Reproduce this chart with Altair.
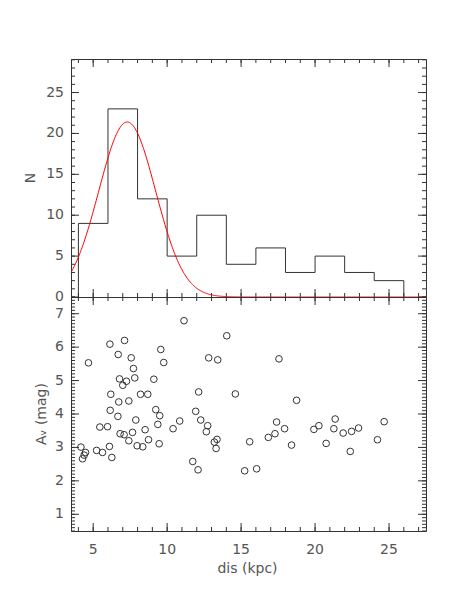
import altair as alt
import pandas as pd

# ---------------- data ----------------
# histogram of distances (bin edges in kpc, counts)
bin_edges = [4, 6, 8, 10, 12, 14, 16, 18, 20, 22, 24, 26]
counts = [9, 23, 12, 5, 10, 4, 6, 3, 5, 3, 2]

# gaussian fit parameters (red curve)
gauss_amp = 21.4
gauss_mu = 7.3
gauss_sigma = 1.92

# scatter: distance (kpc) vs A_V (mag)
dis = [4.17, 4.28, 4.39, 4.48, 4.68, 5.23, 5.45, 5.63, 5.97,
       6.13, 6.10, 6.19, 6.15, 6.26, 6.67, 6.69, 6.73, 6.78, 6.82, 7.00,
       7.09, 7.12, 7.25, 7.41, 7.41, 7.57, 7.66, 7.72, 7.81, 7.88, 7.97,
       8.20, 8.35, 8.51, 8.69, 8.74, 9.10, 9.23, 9.37, 9.46, 9.50, 9.57, 9.77,
       10.40, 10.85, 11.14, 11.73, 11.93,
       12.09, 12.13, 12.27, 12.65, 12.74, 12.81, 13.19, 13.31, 13.37, 13.42,
       14.03, 14.61, 15.24, 15.58,
       16.05, 16.84, 17.29, 17.40, 17.56, 17.94,
       18.41, 18.75, 19.92,
       20.26, 20.75, 21.27, 21.36, 21.90,
       22.38, 22.47, 22.94,
       24.22, 24.67]
av = [3.01, 2.66, 2.77, 2.85, 5.53, 2.91, 3.61, 2.85, 3.62,
      6.09, 3.03, 4.59, 4.11, 2.70, 3.93, 5.78, 4.36, 5.05, 3.41, 4.86,
      3.38, 6.20, 4.98, 4.39, 3.20, 5.68, 3.45, 5.36, 5.08, 3.82, 3.05,
      4.59, 3.02, 3.53, 4.59, 3.23, 5.04, 4.13, 3.69, 3.11, 3.95, 5.93, 5.54,
      3.56, 3.79, 6.79, 2.58, 4.08,
      2.33, 4.66, 3.82, 3.47, 3.65, 5.68, 3.16, 2.97, 3.24, 5.62,
      6.34, 4.60, 2.30, 3.17,
      2.36, 3.30, 3.41, 3.76, 5.65, 3.56,
      3.07, 4.41, 3.54,
      3.65, 3.12, 3.56, 3.85, 3.43,
      2.88, 3.48, 3.58,
      3.23, 3.77]

# axis tick values and texts
x_major = [5, 10, 15, 20, 25]
x_minor = list(range(4, 28))
n_major = [0, 5, 10, 15, 20, 25]
n_minor = list(range(0, 30))
av_major = [1, 2, 3, 4, 5, 6, 7]
av_minor = [round(0.5 + 0.1 * i, 1) for i in range(71)]
x_title = "dis (kpc)"
n_title = "N"
av_title = "A\u1d65 (mag)"

x_domain = [3.5, 27.5]
n_domain = [0, 29.1]
av_domain = [0.5, 7.5]

# ---------------- tables ----------------
step_x = [bin_edges[0]] + bin_edges[:-1] + [bin_edges[-1], bin_edges[-1]]
step_y = [0] + counts + [counts[-1], 0]
step_df = pd.DataFrame({"dis": step_x, "N": step_y, "order": list(range(len(step_x)))})
scat_df = pd.DataFrame({"dis": dis, "av": av})

INK = "#333333"
TXT = "#555555"
FONT = "DejaVu Sans"
FS = 14
MAJ = 8
MIN = 4
W = 355
H_TOP = 238
H_BOT = 234

xs = alt.Scale(domain=x_domain, nice=False, zero=False)
ns = alt.Scale(domain=n_domain, nice=False, zero=False)
avs = alt.Scale(domain=av_domain, nice=False, zero=False)


def x_ticks(values, h, size):
    """inward tick marks on bottom and top edges, positioned via the x scale"""
    df = pd.DataFrame({"dis": values})
    return [
        alt.Chart(df).mark_rule(color=INK, strokeWidth=1).encode(
            x=alt.X("dis:Q", scale=xs, axis=None),
            y=alt.value(h), y2=alt.value(h - size)),
        alt.Chart(df).mark_rule(color=INK, strokeWidth=1).encode(
            x=alt.X("dis:Q", scale=xs, axis=None),
            y=alt.value(0), y2=alt.value(size)),
    ]


def y_ticks(values, field, scale, size):
    """inward tick marks on left and right edges, positioned via the y scale"""
    df = pd.DataFrame({field: values})
    return [
        alt.Chart(df).mark_rule(color=INK, strokeWidth=1).encode(
            y=alt.Y(f"{field}:Q", scale=scale, axis=None),
            x=alt.value(0), x2=alt.value(size)),
        alt.Chart(df).mark_rule(color=INK, strokeWidth=1).encode(
            y=alt.Y(f"{field}:Q", scale=scale, axis=None),
            x=alt.value(W), x2=alt.value(W - size)),
    ]


def y_labels(values, field, scale):
    df = pd.DataFrame({field: values, "lab": [str(v) for v in values]})
    return alt.Chart(df).mark_text(align="right", baseline="middle", font=FONT,
                                   fontSize=FS, color=TXT).encode(
        y=alt.Y(f"{field}:Q", scale=scale, axis=None),
        x=alt.value(-7), text="lab:N")


def y_title(label, xpos, h):
    return alt.Chart(pd.DataFrame({"lab": [label]})).mark_text(
        angle=270, align="center", baseline="middle", font=FONT, fontSize=FS, color=TXT
    ).encode(x=alt.value(xpos), y=alt.value(h / 2), text="lab:N")


# ---------------- top panel ----------------
step = alt.Chart(step_df).mark_line(interpolate="step-after", color=INK, strokeWidth=1).encode(
    x=alt.X("dis:Q", scale=xs, axis=None),
    y=alt.Y("N:Q", scale=ns, axis=None),
    order="order:Q",
)

gauss = alt.Chart(alt.sequence(x_domain[0], x_domain[1] + 0.01, 0.05, as_="dis")).transform_calculate(
    N=f"{gauss_amp} * exp(-pow(datum.dis - {gauss_mu}, 2) / (2 * {gauss_sigma} * {gauss_sigma}))"
).mark_line(color="#ff0000", strokeWidth=1).encode(
    x=alt.X("dis:Q", scale=xs, axis=None),
    y=alt.Y("N:Q", scale=ns, axis=None),
)

top = alt.layer(
    *x_ticks(x_major, H_TOP, MAJ), *x_ticks(x_minor, H_TOP, MIN),
    *y_ticks(n_major, "N", ns, MAJ), *y_ticks(n_minor, "N", ns, MIN),
    step, gauss,
    y_labels(n_major, "N", ns),
    y_title(n_title, -40, H_TOP),
).properties(width=W, height=H_TOP)

# ---------------- bottom panel ----------------
pts = alt.Chart(scat_df).mark_point(shape="circle", filled=False, size=44, color=INK,
                                    strokeWidth=1, opacity=1).encode(
    x=alt.X("dis:Q", scale=xs, axis=None),
    y=alt.Y("av:Q", scale=avs, axis=None),
)

xlab_df = pd.DataFrame({"dis": x_major, "lab": [str(v) for v in x_major]})
x_labels = alt.Chart(xlab_df).mark_text(align="center", baseline="middle", font=FONT,
                                        fontSize=FS, color=TXT).encode(
    x=alt.X("dis:Q", scale=xs, axis=None), y=alt.value(H_BOT + 19), text="lab:N")

x_title_mark = alt.Chart(pd.DataFrame({"lab": [x_title]})).mark_text(
    align="center", baseline="middle", font=FONT, fontSize=FS, color=TXT
).encode(x=alt.value(W / 2 - 1), y=alt.value(H_BOT + 38), text="lab:N")

bottom = alt.layer(
    *x_ticks(x_major, H_BOT, MAJ), *x_ticks(x_minor, H_BOT, MIN),
    *y_ticks(av_major, "av", avs, MAJ), *y_ticks(av_minor, "av", avs, MIN),
    pts,
    y_labels(av_major, "av", avs),
    y_title(av_title, -29, H_BOT),
    x_labels, x_title_mark,
).properties(width=W, height=H_BOT)

chart = alt.vconcat(top, bottom, spacing=0, bounds="flush").properties(
    padding={"left": 15, "top": 50, "right": 5, "bottom": 5}
).configure_view(stroke=INK, strokeWidth=1)

chart.save("out.html", embed_options={"renderer": "svg", "actions": False})
